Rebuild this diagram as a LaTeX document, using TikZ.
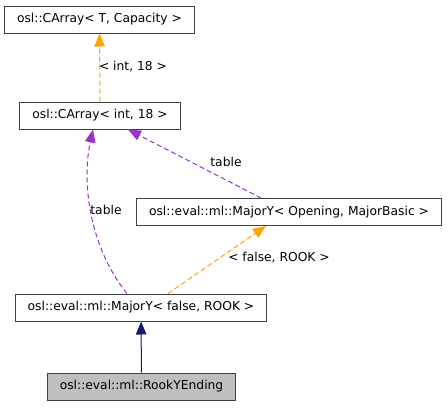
\documentclass[tikz,border=0pt]{standalone}
\usepackage{fontspec}
\setmainfont{DejaVu Sans}
\usetikzlibrary{arrows.meta}
\definecolor{tmplorange}{HTML}{FFA500}
\definecolor{usepurple}{HTML}{9A32CD}
\definecolor{inhnavy}{HTML}{191970}
\definecolor{boxgray}{HTML}{404040}
\begin{document}
\begin{tikzpicture}[
x=1pt, y=-1pt,
cls/.style={
	draw=boxgray, rectangle, line width=1pt,
	minimum height=27pt, inner xsep=12.5pt,
	font=\fontsize{12.3}{14}\selectfont, text=black
},
lbl/.style={font=\fontsize{12.3}{14}\selectfont, inner sep=1pt},
edge/.style={line width=1pt, -{Triangle[length=13pt,width=10.5pt]}},
dashy/.style={dash pattern=on 5pt off 3pt}
]
\useasboundingbox[fill=white] (0,0) rectangle (448,408);
\node[cls] (tmpl) at (99.5,19.5) {osl::CArray< T, Capacity >};
\node[cls] (carr) at (100,115.5) {osl::CArray< int, 18 >};
\node[cls] (majOpen) at (289,212) {osl::eval::ml::MajorY< Opening, MajorBasic >};
\node[cls] (majRook) at (141,307.5) {osl::eval::ml::MajorY< false, ROOK >};
\node[cls, fill=black!25] (rook) at (141.5,386.5) {osl::eval::ml::RookYEnding};
% template instances
\draw[edge, dashy, tmplorange] (carr) -- (tmpl);
\node[lbl] (lblInt) at (133,67) {< int, 18 >};
\draw[edge, dashy, tmplorange] ([xshift=27pt]majRook.north) -- ([xshift=-23pt]majOpen.south);
\node[lbl] (lblFalse) at (279,258) {< false, ROOK >};
% usage
\draw[edge, dashy, usepurple] ([xshift=-28pt]majOpen.north) -- ([xshift=28pt]carr.south);
\node[lbl] (lblTabA) at (226,162) {table};
\draw[edge, dashy, usepurple] ([xshift=-14pt]majRook.north) .. controls (88,245) and (82,180) .. ([xshift=-7pt]carr.south);
\node[lbl] (lblTabB) at (106,210) {table};
% inheritance
\draw[edge, inhnavy] (rook) -- (majRook);
\end{tikzpicture}
\end{document}
